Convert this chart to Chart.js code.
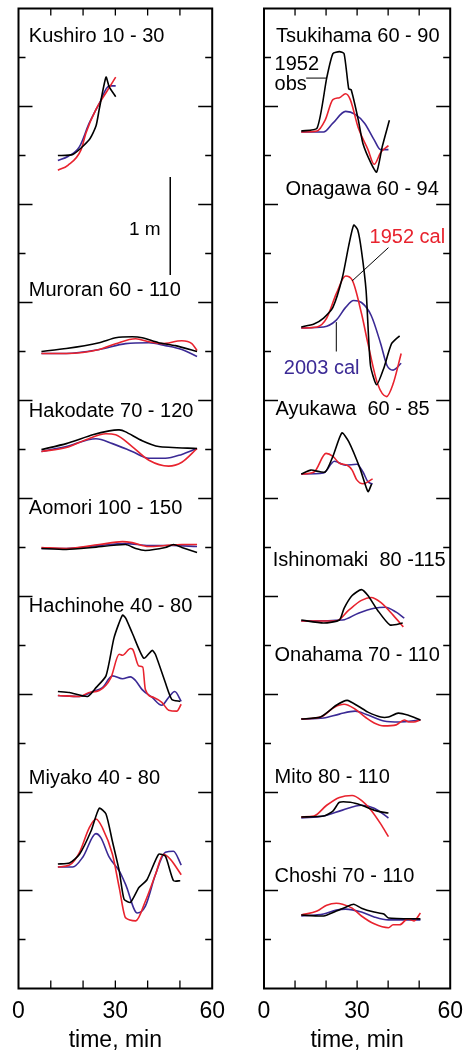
<!DOCTYPE html>
<html>
<head>
<meta charset="utf-8">
<script src="https://cdn.jsdelivr.net/npm/chart.js@4.4.1/dist/chart.umd.min.js"></script>
<style>
  html, body { margin: 0; padding: 0; background: #fff; }
  body { width: 475px; height: 1050px; position: relative; overflow: hidden; }
  #leftChart { position: absolute; left: 0; top: 0; }
  #rightChart { position: absolute; left: 240px; top: 0; }
</style>
</head>
<body>
<canvas id="leftChart" width="237" height="1050"></canvas>
<canvas id="rightChart" width="235" height="1050"></canvas>
<script>
// station names and the level (m) each record is plotted at
const leftStations = ['Kushiro 10 - 30', 'Muroran 60 - 110', 'Hakodate 70 - 120',
    'Aomori 100 - 150', 'Hachinohe 40 - 80', 'Miyako 40 - 80'];
const leftBase = [8.5, 6.5, 5.5, 4.5, 3.0, 1.26];

const rightStations = ['Tsukihama 60 - 90', 'Onagawa 60 - 94', 'Ayukawa  60 - 85',
    'Ishinomaki  80 -115', 'Onahama 70 - 110', 'Mito 80 - 110', 'Choshi 70 - 110'];
const rightBase = [8.75, 6.75, 5.25, 3.75, 2.75, 1.75, 0.75];

const xTicks = [0, 30, 60];

// [time (min), water level (m)] -- obs = 1952 observed, cal52 / cal03 = computed
const kushiroObs = [[12.2,0],[16.8,0.01],[21.9,0.16],[24.0,0.30],[25.0,0.47],[27.1,0.80],[28.1,0.70],[30.1,0.60]];
const kushiroCal52 = [[12.2,-0.15],[15.3,-0.10],[19.4,0.06],[20.9,0.23],[24.0,0.47],[27.1,0.64],[30.1,0.80]];
const kushiroCal03 = [[12.2,-0.05],[15.3,-0.01],[18.9,0.09],[21.9,0.33],[25.0,0.53],[28.1,0.71],[30.1,0.71]];

const muroranObs = [[7.1,0],[14.8,0.03],[25.0,0.09],[30.1,0.14],[35.2,0.15],[38.3,0.14],[43.4,0.09],[48.6,0.06],[55.3,0]];
const muroranCal52 = [[7.1,-0.02],[14.8,-0.02],[25.0,0.02],[30.1,0.08],[36.3,0.13],[40.4,0.10],[44.4,0.08],[50.6,0.11],[53.7,0.08],[55.3,0.01]];
const muroranCal03 = [[7.1,-0.02],[14.8,-0.02],[25.0,0.02],[33.2,0.08],[40.4,0.09],[45.5,0.06],[50.6,0.02],[55.3,-0.05]];

const hakodateObs = [[7.1,0],[14.8,0.06],[23.0,0.15],[28.1,0.19],[31.2,0.20],[33.2,0.18],[38.3,0.09],[43.4,0.03],[55.3,0.01]];
const hakodateCal52 = [[7.1,-0.02],[14.8,0.02],[20.9,0.10],[27.1,0.16],[30.1,0.15],[35.2,0.03],[40.4,-0.11],[46.5,-0.17],[50.6,-0.13],[55.3,0.01]];
const hakodateCal03 = [[7.1,-0.02],[14.8,0.03],[24.0,0.11],[29.1,0.06],[35.2,-0.02],[40.4,-0.09],[45.5,-0.09],[50.6,-0.05],[55.3,0.01]];

const aomoriObs = [[7.1,-0.01],[14.8,-0.02],[23.0,0],[33.2,0.03],[36.3,-0.01],[39.3,-0.03],[45.5,0],[48.0,0.03],[50.6,0],[55.3,-0.05]];
const aomoriCal52 = [[7.1,0],[14.8,-0.01],[25.0,0.03],[32.2,0.06],[35.2,0.05],[40.4,0.01],[45.5,0.02],[50.6,0.03],[55.3,0.03]];
const aomoriCal03 = [[7.1,-0.01],[14.8,-0.01],[25.0,0.02],[33.2,0.04],[40.4,0.02],[47.6,0.02],[55.3,0.01]];

const hachinoheObs = [[12.2,0.03],[15.8,0.02],[21.4,-0.02],[24.0,0.07],[27.1,0.19],[29.6,0.58],[32.2,0.81],[33.2,0.78],[35.2,0.63],[38.8,0.37],[41.4,0.45],[42.4,0.41],[45.5,0.12],[47.5,-0.05],[50.1,-0.07]];
const hachinoheCal52 = [[12.2,-0.01],[18.9,-0.02],[21.9,0.02],[25.0,0.04],[28.6,0.17],[31.2,0.41],[32.2,0.40],[34.7,0.47],[35.4,0.46],[37.3,0.29],[38.5,0.28],[39.3,0.05],[41.9,-0.03],[44.4,-0.08],[46.5,-0.16],[49.0,-0.17],[50.4,-0.10]];
const hachinoheCal03 = [[12.2,-0.01],[18.9,-0.02],[23.0,0.03],[26.0,0.07],[29.1,0.19],[32.2,0.16],[34.7,0.18],[36.3,0.14],[38.3,0.05],[41.4,-0.03],[44.4,-0.11],[46.5,-0.03],[48.4,0.03],[50.4,-0.07]];

const miyakoObs = [[12.2,0.01],[15.8,0.02],[18.9,0.11],[22.5,0.35],[25.0,0.58],[27.1,0.52],[29.1,0.24],[31.2,-0.06],[32.7,-0.35],[34.7,-0.38],[37.3,-0.23],[39.8,-0.15],[43.4,0.11],[45.5,0.09],[48.0,-0.16],[50.1,-0.16]];
const miyakoCal52 = [[12.2,-0.02],[15.8,0],[18.9,0.13],[21.9,0.38],[24.0,0.47],[26.0,0.38],[29.1,0.11],[31.2,-0.23],[33.2,-0.54],[36.3,-0.57],[39.3,-0.37],[42.4,-0.10],[44.9,0.11],[47.0,0.06],[50.4,-0.10]];
const miyakoCal03 = [[12.2,-0.02],[16.8,-0.02],[19.9,0.08],[24.0,0.32],[25.5,0.28],[28.1,0.08],[31.2,-0.06],[33.2,-0.20],[36.8,-0.49],[39.3,-0.42],[42.4,-0.10],[45.5,0.13],[48.0,0.14],[50.4,0]];

const tsukihamaObs = [[12.0,0],[17.1,0.03],[20.2,0.54],[22.2,0.79],[24.3,0.81],[25.8,0.79],[27.3,0.43],[28.1,0.42],[30.4,0.11],[31.9,-0.13],[34.5,-0.33],[36.3,-0.42],[38.1,-0.16],[40.4,0.11]];
const tsukihamaCal52 = [[12.0,-0.01],[17.1,0],[19.7,0.11],[22.2,0.32],[24.3,0.34],[26.3,0.38],[27.8,0.32],[30.4,0.03],[33.5,-0.19],[35.5,-0.34],[37.6,-0.22],[40.1,-0.15]];
const tsukihamaCal03 = [[12.0,-0.01],[19.2,-0.01],[22.2,0.08],[26.3,0.20],[29.4,0.17],[32.4,0.08],[35.5,-0.09],[37.6,-0.19],[40.1,-0.19]];

const onagawaObs = [[12.0,0],[16.1,0.03],[19.2,0.09],[22.2,0.20],[25.3,0.51],[27.3,0.83],[28.9,1.04],[30.2,0.99],[31.4,0.78],[32.9,0.37],[34.3,-0.39],[36.3,-0.59],[38.6,-0.42],[41.1,-0.17],[43.7,-0.09]];
const onagawaCal52 = [[12.0,-0.01],[17.1,0],[20.2,0.09],[23.3,0.34],[26.3,0.52],[28.4,0.48],[31.4,0.14],[33.5,-0.17],[36.6,-0.58],[39.5,-0.71],[41.6,-0.58],[44.2,-0.27]];
const onagawaCal03 = [[12.0,-0.01],[19.2,0],[23.3,0.07],[26.3,0.20],[28.9,0.27],[31.4,0.25],[34.5,0.12],[37.6,-0.17],[39.6,-0.39],[41.6,-0.44],[44.2,-0.37]];

const ayukawaObs = [[12.0,0],[15.1,0.04],[19.7,0.02],[22.2,0.18],[25.1,0.42],[27.3,0.33],[30.9,0.06],[33.5,-0.18],[34.7,-0.10]];
const ayukawaCal52 = [[12.0,0],[16.1,0.02],[20.0,0.21],[22.2,0.18],[24.3,0.11],[26.8,0.09],[28.4,0.04],[29.9,-0.06],[31.9,-0.10],[35.0,-0.05]];
const ayukawaCal03 = [[12.0,0],[19.2,0.01],[22.7,0.13],[26.3,0.09],[29.9,0.10],[31.9,0.02],[33.5,-0.08],[35.0,-0.10]];

const ishinomakiObs = [[12.0,0.01],[19.2,-0.02],[24.3,0.01],[25.8,0.13],[28.4,0.26],[31.4,0.32],[33.5,0.26],[36.6,0.11],[40.6,-0.04],[44.7,-0.02]];
const ishinomakiCal52 = [[12.0,0],[23.3,0],[27.3,0.11],[31.4,0.21],[34.5,0.24],[37.6,0.19],[41.6,0.06],[44.9,-0.06]];
const ishinomakiCal03 = [[12.0,0],[25.3,0.01],[30.4,0.08],[35.5,0.13],[39.1,0.14],[42.6,0.09],[45.2,0.03]];

const onahamaObs = [[12.0,0],[18.2,0.02],[23.3,0.14],[26.8,0.19],[30.4,0.13],[33.5,0.07],[37.6,0.02],[40.1,0.02],[43.2,0.06],[46.3,0.04],[50.4,-0.01]];
const onahamaCal52 = [[12.0,0],[18.2,0.02],[22.7,0.12],[25.8,0.15],[29.4,0.10],[33.0,0.01],[35.5,-0.04],[38.6,-0.07],[42.6,-0.06],[45.2,-0.01],[46.7,-0.03],[48.3,-0.03],[50.4,-0.01]];
const onahamaCal03 = [[12.0,0],[19.2,0.01],[24.3,0.05],[29.4,0.08],[33.5,0.04],[38.6,-0.02],[43.7,-0.03],[50.4,-0.01]];

const mitoObs = [[12.0,0],[19.2,0.01],[22.2,0.06],[24.3,0.15],[27.8,0.15],[31.4,0.12],[35.5,0.07],[38.1,0.05],[40.1,0.04]];
const mitoCal52 = [[12.0,0],[16.1,0.01],[20.2,0.12],[24.3,0.20],[28.4,0.22],[31.4,0.17],[34.5,0.07],[37.6,-0.07],[40.1,-0.20]];
const mitoCal03 = [[12.0,-0.01],[19.2,0.01],[25.3,0.07],[31.4,0.12],[35.5,0.09],[40.1,-0.01]];

const choshiObs = [[12.0,0],[19.2,-0.01],[23.3,0.04],[26.3,0.08],[28.9,0.11],[31.4,0.07],[35.5,0.03],[38.6,0.01],[40.1,-0.03],[50.4,-0.04]];
const choshiCal52 = [[12.0,0],[17.1,0.04],[20.2,0.10],[23.3,0.12],[25.3,0.11],[28.4,0.07],[31.4,-0.01],[35.5,-0.09],[40.1,-0.13],[41.6,-0.10],[43.7,-0.10],[46.3,-0.04],[48.3,-0.06],[50.4,0.02]];
const choshiCal03 = [[12.0,-0.01],[19.2,0.01],[23.3,0.05],[26.3,0.06],[31.4,0.03],[35.5,-0.02],[40.1,-0.05],[50.4,-0.05]];

const leftObs = [kushiroObs, muroranObs, hakodateObs, aomoriObs, hachinoheObs, miyakoObs];
const leftCal52 = [kushiroCal52, muroranCal52, hakodateCal52, aomoriCal52, hachinoheCal52, miyakoCal52];
const leftCal03 = [kushiroCal03, muroranCal03, hakodateCal03, aomoriCal03, hachinoheCal03, miyakoCal03];
const rightObs = [tsukihamaObs, onagawaObs, ayukawaObs, ishinomakiObs, onahamaObs, mitoObs, choshiObs];
const rightCal52 = [tsukihamaCal52, onagawaCal52, ayukawaCal52, ishinomakiCal52, onahamaCal52, mitoCal52, choshiCal52];
const rightCal03 = [tsukihamaCal03, onagawaCal03, ayukawaCal03, ishinomakiCal03, onahamaCal03, mitoCal03, choshiCal03];

const OBS_COLOR = '#000000';
const CAL52_COLOR = '#e8232e';
const CAL03_COLOR = '#3b2a95';
const FONT = '"Liberation Sans", Arial, sans-serif';

function shifted(points, base) {
    return points.map(p => ({x: p[0], y: p[1] + base}));
}

function makeLine(points, base, color, smooth) {
    return {
        data: shifted(points, base),
        borderColor: color,
        borderWidth: 1.6,
        pointRadius: 0,
        tension: smooth ? 0 : 0.2,
        cubicInterpolationMode: smooth ? 'monotone' : 'default',
        fill: false
    };
}

function makeDatasets(obs, cal52, cal03, bases) {
    let sets = [];
    for (let i = 0; i < bases.length; i++) {
        sets.push(makeLine(obs[i], bases[i], OBS_COLOR, false));
        sets.push(makeLine(cal52[i], bases[i], CAL52_COLOR, true));
        sets.push(makeLine(cal03[i], bases[i], CAL03_COLOR, true));
    }
    return sets;
}

// frame with inward ticks, station names and annotations
const framePlugin = {
    id: 'frame',
    afterDatasetsDraw(chart, args, opts) {
        const ctx = chart.ctx;
        const a = chart.chartArea;
        const x = chart.scales.x;
        const y = chart.scales.y;
        ctx.save();
        ctx.strokeStyle = '#000';
        ctx.lineWidth = 1.3;
        ctx.beginPath();
        for (let t = 10; t < 60; t += 10) {
            let px = x.getPixelForValue(t);
            ctx.moveTo(px, a.top); ctx.lineTo(px, a.top + 7);
            ctx.moveTo(px, a.bottom); ctx.lineTo(px, a.bottom - 8);
        }
        for (let m = 0.5; m < 10; m += 0.5) {
            let py = y.getPixelForValue(m);
            let len = (m % 1 === 0) ? 14 : 7;
            ctx.moveTo(a.left, py); ctx.lineTo(a.left + len, py);
            ctx.moveTo(a.right, py); ctx.lineTo(a.right - len, py);
        }
        ctx.stroke();

        ctx.lineWidth = 2;
        ctx.strokeRect(a.left, a.top, a.right - a.left, a.bottom - a.top);

        ctx.font = '20px ' + FONT;
        ctx.textBaseline = 'alphabetic';
        ctx.textAlign = 'left';
        opts.names.forEach((name, i) => {
            ctx.fillStyle = '#000';
            ctx.fillText(name, x.getPixelForValue(opts.namePos[i][0]), y.getPixelForValue(opts.namePos[i][1]));
        });

        (opts.notes || []).forEach(n => {
            ctx.fillStyle = n.color;
            ctx.textAlign = n.align || 'left';
            ctx.font = (n.size || 20) + 'px ' + FONT;
            ctx.fillText(n.text, x.getPixelForValue(n.at[0]), y.getPixelForValue(n.at[1]));
        });

        (opts.pointers || []).forEach(p => {
            ctx.lineWidth = p.width || 1;
            ctx.beginPath();
            ctx.moveTo(x.getPixelForValue(p.from[0]), y.getPixelForValue(p.from[1]));
            ctx.lineTo(x.getPixelForValue(p.to[0]), y.getPixelForValue(p.to[1]));
            ctx.stroke();
        });
        ctx.restore();
    }
};

function makeOptions(padding, frameOpts) {
    return {
        responsive: false,
        animation: false,
        layout: { padding: padding },
        plugins: {
            legend: { display: false },
            tooltip: { enabled: false },
            frame: frameOpts
        },
        scales: {
            x: {
                type: 'linear',
                min: 0,
                max: 60,
                afterBuildTicks: s => { s.ticks = xTicks.map(v => ({value: v})); },
                grid: { display: false, drawTicks: false },
                border: { display: false },
                ticks: {
                    color: '#000',
                    padding: 12,
                    maxRotation: 0,
                    font: { family: FONT, size: 23, lineHeight: 1 }
                },
                title: {
                    display: true,
                    text: 'time, min',
                    color: '#000',
                    padding: { top: -6, bottom: -2.5 },
                    font: { family: FONT, size: 23, lineHeight: 1 }
                }
            },
            y: {
                type: 'linear',
                min: 0,
                max: 10,
                display: false
            }
        }
    };
}

new Chart(document.getElementById('leftChart'), {
    type: 'line',
    data: { datasets: makeDatasets(leftObs, leftCal52, leftCal03, leftBase) },
    options: makeOptions({ left: 18.5, right: 23, top: 8.5, bottom: 0 }, {
        names: leftStations,
        namePos: [[3.2, 9.66], [3.2, 7.07], [3.2, 5.83], [3.2, 4.84], [3.2, 3.84], [3.2, 2.09]],
        notes: [{ text: '1 m', color: '#000', at: [44.0, 7.69], align: 'right', size: 19 }],
        pointers: [{ from: [47.0, 7.28], to: [47.0, 8.28], width: 1.5 }]
    }),
    plugins: [framePlugin]
});

new Chart(document.getElementById('rightChart'), {
    type: 'line',
    data: { datasets: makeDatasets(rightObs, rightCal52, rightCal03, rightBase) },
    options: makeOptions({ left: 24, right: 15, top: 8.5, bottom: 0 }, {
        names: rightStations,
        namePos: [[3.9, 9.66], [6.9, 8.10], [3.7, 5.85], [2.8, 4.31], [3.4, 3.34], [3.4, 2.10], [3.4, 1.09]],
        notes: [
            { text: '1952', color: '#000', at: [3.4, 9.37] },
            { text: 'obs', color: '#000', at: [3.4, 9.17] },
            { text: '1952 cal', color: CAL52_COLOR, at: [34.0, 7.61] },
            { text: '2003 cal', color: CAL03_COLOR, at: [6.4, 6.27] }
        ],
        pointers: [
            { from: [13.6, 9.29], to: [20.0, 9.29] },
            { from: [40.1, 7.56], to: [28.4, 7.22] },
            { from: [23.3, 6.80], to: [23.3, 6.50] }
        ]
    }),
    plugins: [framePlugin]
});
</script>
</body>
</html>
